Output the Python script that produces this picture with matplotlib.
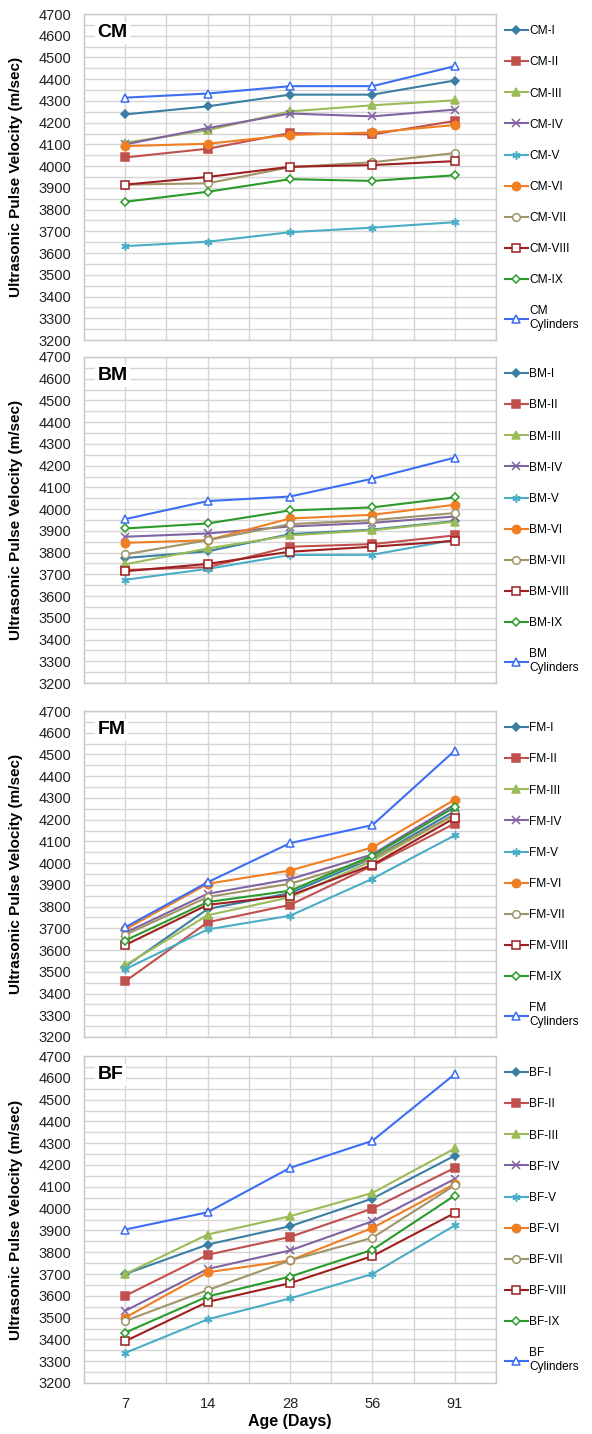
import matplotlib
matplotlib.use("Agg")
import matplotlib.pyplot as plt
import numpy as np

ages = ["7", "14", "28", "56", "91"]
suffixes = ["I", "II", "III", "IV", "V", "VI", "VII", "VIII", "IX", "Cylinders"]

cm_values = [
    [4238, 4275, 4329, 4329, 4394],
    [4040, 4080, 4152, 4146, 4208],
    [4108, 4165, 4252, 4280, 4303],
    [4100, 4175, 4242, 4229, 4260],
    [3632, 3652, 3696, 3717, 3742],
    [4092, 4103, 4143, 4155, 4189],
    [3915, 3921, 3995, 4018, 4060],
    [3915, 3950, 3997, 4005, 4023],
    [3836, 3882, 3940, 3932, 3958],
    [4315, 4334, 4368, 4368, 4460],
]
bm_values = [
    [3775, 3806, 3885, 3906, 3945],
    [3720, 3733, 3827, 3839, 3879],
    [3746, 3819, 3879, 3903, 3942],
    [3873, 3888, 3920, 3937, 3966],
    [3675, 3725, 3789, 3790, 3859],
    [3845, 3857, 3957, 3974, 4020],
    [3792, 3857, 3931, 3949, 3982],
    [3714, 3748, 3804, 3827, 3854],
    [3911, 3934, 3994, 4008, 4054],
    [3954, 4037, 4058, 4140, 4237],
]
fm_values = [
    [3524, 3789, 3862, 4022, 4240],
    [3456, 3728, 3808, 3988, 4182],
    [3530, 3760, 3843, 4010, 4222],
    [3680, 3859, 3926, 4040, 4270],
    [3512, 3695, 3758, 3928, 4128],
    [3695, 3905, 3966, 4072, 4292],
    [3670, 3844, 3905, 4020, 4225],
    [3623, 3808, 3851, 3992, 4208],
    [3644, 3821, 3873, 4034, 4258],
    [3705, 3912, 4092, 4175, 4518],
]
bf_values = [
    [3700, 3835, 3919, 4046, 4243],
    [3600, 3788, 3870, 4000, 4187],
    [3700, 3881, 3965, 4072, 4276],
    [3531, 3723, 3808, 3942, 4136],
    [3338, 3492, 3588, 3700, 3923],
    [3500, 3708, 3762, 3911, 4113],
    [3485, 3626, 3762, 3866, 4107],
    [3392, 3572, 3658, 3782, 3980],
    [3431, 3597, 3688, 3811, 4060],
    [3904, 3983, 4187, 4311, 4617],
]

groups = ["CM", "BM", "FM", "BF"]
group_values = [cm_values, bm_values, fm_values, bf_values]

colors = ["#3A7FA3", "#C0504D", "#9BBB59", "#8064A2", "#4BACC6",
          "#F07F23", "#A09468", "#9E1F1F", "#2A9A2A", "#3C6EF5"]
markers = ["D", "s", "^", "x", (6, 2, 0), "o", "o", "s", "D", "^"]
msizes = [4.2, 5.2, 5.2, 6, 6, 6, 5.5, 5.8, 3.8, 6]
mfaces = [None, None, None, None, None, None, "white", "white", "white", "white"]

fig = plt.figure(figsize=(5.92, 14.34), dpi=100)
H = 1434.0
W = 592.0
panel_tops = [14, 357, 711, 1056]
panel_bottoms = [340, 683, 1037, 1383]
left_px, right_px = 84, 496

grid_c = "#D6D6D6"
x = np.arange(len(ages))
FONT = "Liberation Sans"

for gi, (g, vals) in enumerate(zip(groups, group_values)):
    top, bot = panel_tops[gi], panel_bottoms[gi]
    ax = fig.add_axes([left_px / W, 1 - bot / H, (right_px - left_px) / W, (bot - top) / H])
    ax.set_xlim(-0.5, len(ages) - 0.5)
    ax.set_ylim(3200, 4700)
    ax.set_yticks(np.arange(3200, 4701, 100))
    ax.set_yticks(np.arange(3250, 4700, 100), minor=True)
    ax.set_xticks(x)
    ax.set_xticks(np.arange(-0.5, len(ages), 1.0), minor=True)
    ax.grid(True, which="both", color=grid_c, linewidth=1.0)
    ax.set_axisbelow(True)
    for s in ax.spines.values():
        s.set_color("#C8C8C8")
        s.set_linewidth(1.0)
    ax.tick_params(which="both", length=0, labelsize=10.5, colors="#222222")
    ax.tick_params(axis="y", pad=9)
    for lbl in ax.get_yticklabels():
        lbl.set_fontfamily(FONT)
    if gi == len(groups) - 1:
        ax.set_xticklabels(ages, fontfamily=FONT, fontsize=10.5)
        ax.tick_params(axis="x", pad=10)
        ax.set_xlabel("Age (Days)", fontsize=11.5, fontweight="bold",
                      fontfamily=FONT, labelpad=2)
    else:
        ax.set_xticklabels([])
    ax.set_ylabel("Ultrasonic Pulse Velocity (m/sec)", fontsize=11, fontweight="bold",
                  fontfamily=FONT)
    ax.yaxis.set_label_coords(-0.148, 0.5)

    for si, suf in enumerate(suffixes):
        label = f"{g}\n{suf}" if suf == "Cylinders" else f"{g}-{suf}"
        kw = dict(color=colors[si], marker=markers[si], markersize=msizes[si],
                  linewidth=1.5, label=label, markeredgewidth=1.1)
        if mfaces[si] is not None:
            kw["markerfacecolor"] = mfaces[si]
            kw["markeredgecolor"] = colors[si]
        ax.plot(x, vals[si], **kw)

    ax.text(0.033, 0.968, g, transform=ax.transAxes, fontsize=14, fontweight="bold",
            fontfamily=FONT, va="top", ha="left",
            bbox=dict(facecolor="white", edgecolor="none", pad=1.5))

    ax.legend(loc="upper left", bbox_to_anchor=(1.01, 0.98), frameon=False,
              prop={"family": FONT, "size": 8.6},
              handlelength=1.9, handletextpad=0.15, labelspacing=1.6,
              borderaxespad=0.0)

fig.savefig("out.png", dpi=100)
